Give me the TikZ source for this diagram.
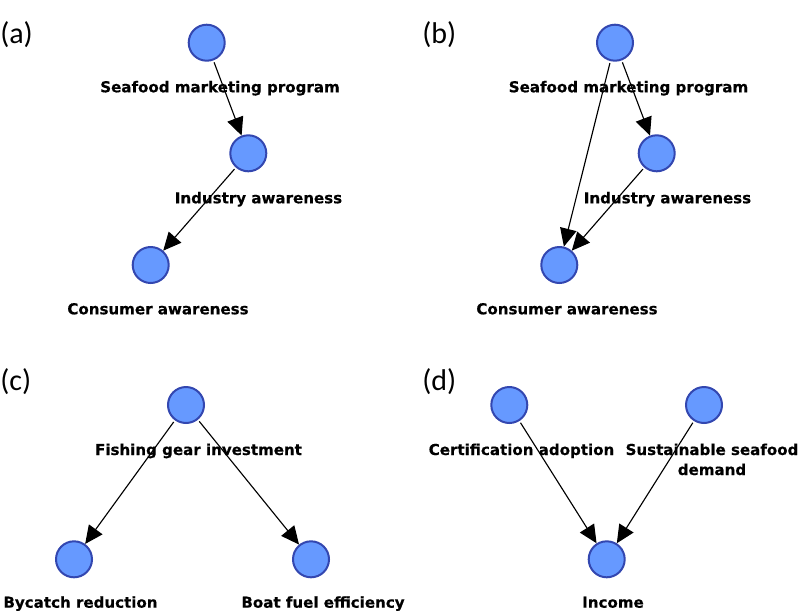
\documentclass[tikz,border=0pt]{standalone}
\usepackage{fontspec}
\usetikzlibrary{arrows.meta}
\newfontfamily\lblfont{DejaVu Sans}[BoldFeatures={FakeBold=0.4}]
\newfontfamily\panelfont{Carlito}
\definecolor{nodefill}{HTML}{6699FF}
\definecolor{nodeedge}{HTML}{3347B0}
\begin{document}
\begin{tikzpicture}[x=0.75pt,y=-0.75pt,
  var/.style={circle,draw=nodeedge,fill=nodefill,line width=1.5pt,minimum size=27pt,inner sep=0pt},
  lbl/.style={anchor=base,inner sep=0pt,font=\lblfont\bfseries\fontsize{11.3}{15}\selectfont,align=center},
  panel/.style={anchor=base west,inner sep=0pt,font=\panelfont\fontsize{22.5}{27}\selectfont},
  edge/.style={-{Triangle[length=13.5pt,width=12.5pt]},line width=0.85pt,black,shorten <=1.5pt}]
\useasboundingbox (0,0) rectangle (800,611);
% panel labels
\node[panel] (pa) at (0,43) {(a)};
\node[panel] (pb) at (422,43) {(b)};
\node[panel] (pc) at (0,390) {(c)};
\node[panel] (pd) at (422,390) {(d)};
% (a)
\node[var] (a1) at (206.7,42.7) {};
\node[var] (a2) at (248.3,153.3) {};
\node[var] (a3) at (150.7,265) {};
\node[lbl] (la1) at (220,92.3) {Seafood marketing program};
\node[lbl] (la2) at (258.5,203.3) {Industry awareness};
\node[lbl] (la3) at (158,314.3) {Consumer awareness};
\draw[edge] (a1) -- (a2);
\draw[edge] (a2) -- (a3);
% (b)
\node[var] (b1) at (615,42.7) {};
\node[var] (b2) at (656.7,153.3) {};
\node[var] (b3) at (559.3,265) {};
\node[lbl] (lb1) at (628.5,92.3) {Seafood marketing program};
\node[lbl] (lb2) at (667.5,203.3) {Industry awareness};
\node[lbl] (lb3) at (567,314.3) {Consumer awareness};
\draw[edge] (b1) -- (b2);
\draw[edge] (b1) -- (b3);
\draw[edge] (b2) -- (b3);
% (c)
\node[var] (c1) at (186,405) {};
\node[var] (c2) at (74,559.3) {};
\node[var] (c3) at (311,559.3) {};
\node[lbl] (lc1) at (198.5,455) {Fishing gear investment};
\node[lbl] (lc2) at (80.5,607.7) {Bycatch reduction};
\node[lbl] (lc3) at (323,607.7) {Boat fuel efficiency};
\draw[edge] (c1) -- (c2);
\draw[edge] (c1) -- (c3);
% (d)
\node[var] (d1) at (509.3,405) {};
\node[var] (d2) at (704,405) {};
\node[var] (d3) at (606.7,559.3) {};
\node[lbl] (ld1) at (521.5,455) {Certification adoption};
\node[lbl] (ld2) at (712,475) {Sustainable seafood\\demand};
\node[lbl] (ld3) at (613,607.7) {Income};
\draw[edge] (d1) -- (d3);
\draw[edge] (d2) -- (d3);
\end{tikzpicture}
\end{document}
